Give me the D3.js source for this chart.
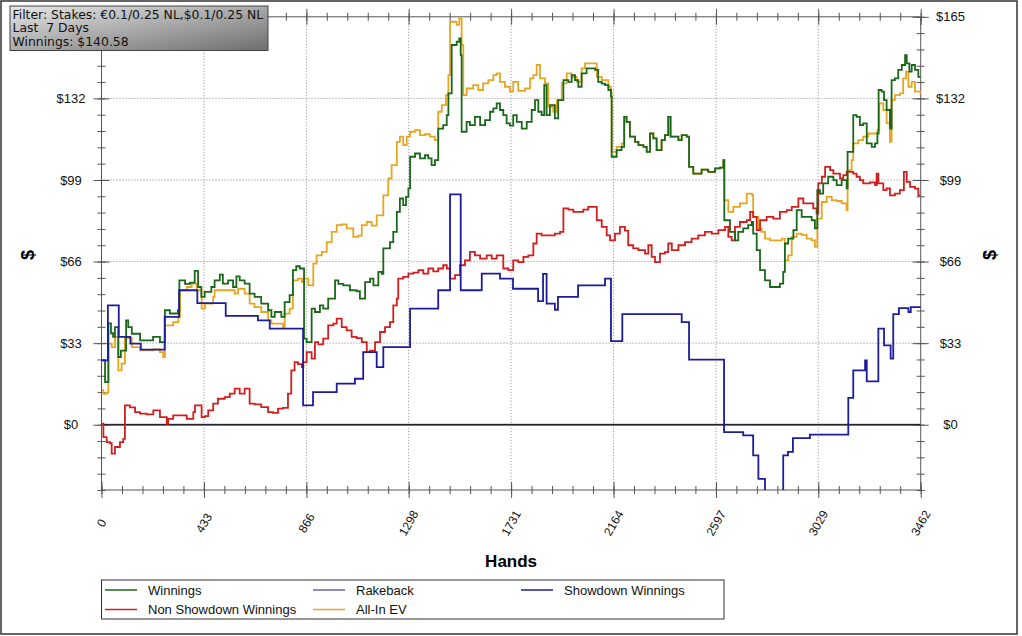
<!DOCTYPE html>
<html>
<head>
  <script src="https://d3js.org/d3.v7.min.js"></script>
  <style>
    body { margin: 0; background: #fff; }
    svg { display: block; font-family: "Liberation Sans", Arial, sans-serif; }
    .grid line { stroke: #8a8a8a; stroke-dasharray: 1px 2px; }
    .axis path { display: none; }
    .axis line { stroke: #555; stroke-width: 1px; }
    .series { fill: none; stroke-width: 1.8px; stroke-linejoin: miter; }
  </style>
</head>
<body>
<script>
// tick labels
var xTicks = [0, 433, 866, 1298, 1731, 2164, 2597, 3029, 3462];
var yTicks = [0, 33, 66, 99, 132, 165];
var filterLines = ["Filter: Stakes: \u20ac0.1/0.25 NL,$0.1/0.25 NL", "Last  7 Days", "Winnings: $140.58"];

// legend: name, column, row
var legendNames = ["Winnings", "Rakeback", "Showdown Winnings", "Non Showdown Winnings", "All-In EV"];
var legendColors = ["#1b681b", "#6666aa", "#1c1c9c", "#d21e1e", "#e6a622"];

// series, [hands, dollars]
var rakeback = [[0, 0], [3462, 0]];

var winnings = [[0,26],[15,17.2],[25,17.2],[29,41],[40,37],[49,35.5],[57,39.5],[64,39.5],[71,27.4],[78,27.4],[82,30],
  [104,42.2],[113,39.5],[128,36.8],[142,36.8],[163,34.1],[205,34.1],[218,35.5],[230,35.5],[247,33.4],[260,33.4],
  [268,46.3],[289,45],[323,46.3],[329,58.4],[353,57],[374,57.5],[394,62.2],[408,55.7],[422,51.7],[436,53.7],
  [464,55.7],[478,58.4],[500,60.7],[513,57.1],[535,58.4],[556,55.7],[570,60],[584,58.4],[605,57.1],[626,53],
  [647,51.7],[675,49],[704,46.3],[718,43.6],[732,45.6],[760,43.6],[774,49.6],[795,52.4],[809,62.5],[823,64.1],
  [838,63.2],[852,63.2],[856,34.8],[867,33.4],[888,47],[902,45.6],[923,48.3],[937,47],[958,51],[987,58.4],
  [1001,57],[1022,56.4],[1050,54.4],[1078,54],[1092,51],[1114,57.7],[1135,59.1],[1149,56.4],[1170,61.8],
  [1184,61],[1191,71.3],[1219,73.9],[1233,78],[1248,86.1],[1261,91.5],[1275,88.8],[1287,92.2],[1297,95.6],
  [1304,108.4],[1325,109.7],[1346,107.7],[1367,109],[1381,107.7],[1395,105],[1409,107],[1423,119.8],
  [1444,121.2],[1459,125.2],[1466,134],[1480,153.6],[1501,154.9],[1512,156.3],[1518,149.5],[1522,118.5],
  [1543,122.5],[1557,121.2],[1578,124.5],[1600,121.2],[1621,123.2],[1642,126.6],[1656,128],[1670,130],
  [1684,127.3],[1698,125.2],[1712,121.9],[1726,121],[1740,125.2],[1755,122.5],[1776,119.8],[1797,122.5],
  [1818,127.3],[1832,131.3],[1846,126.6],[1860,125.2],[1871,137.4],[1881,125.2],[1895,129.3],[1916,123.9],
  [1930,131.3],[1952,139.4],[1973,138.7],[1987,141.4],[2001,139.4],[2015,136.7],[2029,142.1],[2050,144.1],
  [2072,144.1],[2086,143.5],[2099,138.7],[2114,138],[2128,137.4],[2142,135.4],[2153,132.6],[2156,108.4],
  [2177,111.1],[2198,112.4],[2209,124.5],[2219,122.5],[2233,116.5],[2255,114.4],[2269,113.1],[2290,112.4],
  [2304,110.4],[2318,117.8],[2332,115.8],[2346,111.1],[2367,115.1],[2381,117.1],[2395,124.5],[2405,116.5],
  [2424,116.5],[2438,115.1],[2452,117.1],[2473,116.5],[2483,104.3],[2501,101.6],[2536,103.2],[2564,102.3],
  [2593,103.7],[2614,104],[2628,107],[2632,82.7],[2656,78],[2677,74.6],[2691,78],[2712,79.4],[2733,80.7],
  [2748,82],[2754,77.3],[2769,70.6],[2783,62.5],[2804,58.4],[2825,55.7],[2846,55.7],[2867,57.1],[2881,61.8],
  [2888,73.3],[2902,75.3],[2924,78.7],[2938,86.8],[2959,84.1],[2980,84.1],[3001,82.7],[3015,79.4],[3025,94.9],
  [3036,93.5],[3050,97.6],[3071,100.3],[3093,98.9],[3107,96.9],[3128,98.9],[3149,95.6],[3153,110.4],
  [3170,110.4],[3177,125.2],[3191,124.5],[3205,121.2],[3219,121.9],[3234,113.8],[3255,112.4],[3269,113.8],
  [3279,117.8],[3284,135.4],[3297,134.7],[3307,131.3],[3318,127.3],[3332,119.8],[3339,139.4],[3353,140.1],
  [3367,143.5],[3382,145.5],[3396,149.5],[3403,146.2],[3414,142.8],[3424,145.5],[3438,143.5],[3452,140.7],
  [3462,140.58]];

var allInEV = [[0,14],[8,12.5],[22,13],[29,32.8],[43,31.4],[57,35.5],[71,22],[85,24.7],[99,35.5],[113,35],
  [128,31.4],[163,30.1],[219,30.5],[247,29.4],[261,27.4],[268,40.2],[303,41.5],[325,43.6],[332,54.4],[360,55.7],
  [381,57.1],[402,54.4],[423,47],[437,49],[472,51.7],[478,54.4],[563,53],[577,55],[605,53],[626,49],[647,47.6],
  [675,45.6],[704,42.2],[718,40.9],[767,39.5],[774,44.9],[795,47],[809,58.4],[830,59.1],[847,57.7],[856,59.1],
  [874,56.4],[895,65.2],[909,68.5],[931,69.9],[952,73.9],[973,78],[994,80.7],[1015,81],[1036,79.4],[1064,76],
  [1085,76.5],[1100,80.7],[1121,82],[1142,80.5],[1163,84.7],[1191,92.8],[1212,99.6],[1226,105],[1248,114.4],
  [1261,116.5],[1275,113.1],[1290,116.5],[1304,118.5],[1325,119.2],[1346,117.1],[1367,117.5],[1388,116.5],
  [1409,115.1],[1423,126.6],[1438,129.3],[1456,133.3],[1466,141.4],[1473,163],[1487,163],[1501,161.7],
  [1512,164.4],[1522,153.6],[1529,133.3],[1543,136],[1571,137.4],[1592,135.4],[1613,138.1],[1635,139.4],
  [1656,141.4],[1670,142.1],[1684,138.7],[1705,136.7],[1726,134.7],[1740,138.7],[1761,135],[1790,136],
  [1811,140.1],[1825,141.4],[1839,145.5],[1853,140.1],[1874,138.1],[1888,128.6],[1909,126.6],[1924,131.3],
  [1945,138.1],[1966,142.1],[1987,140.7],[2008,138.7],[2029,144.1],[2043,146.2],[2086,146.2],[2093,140.7],
  [2114,139.4],[2142,136.7],[2153,134],[2156,110.4],[2177,112.4],[2198,113.8],[2209,124.5],[2219,122.5],
  [2233,116.5],[2255,114.4],[2269,113.1],[2290,112.4],[2304,110.4],[2318,117.8],[2332,115.8],[2346,111.1],
  [2367,115.1],[2381,117.1],[2395,124.5],[2405,116.5],[2424,116.5],[2438,115.1],[2452,117.1],[2473,116.5],
  [2483,104.3],[2501,101.6],[2536,103.2],[2564,102.3],[2593,103.7],[2614,104],[2628,107],[2632,90.8],
  [2649,86.1],[2670,88.1],[2698,89.5],[2727,93.5],[2748,93],[2754,84.1],[2776,79.4],[2790,78],[2804,75.3],
  [2825,74.6],[2875,75.3],[2888,66.5],[2902,68.5],[2917,76],[2938,77.3],[2959,76.8],[2980,75.3],[3001,74.6],
  [3015,71.9],[3025,83.4],[3044,90.1],[3065,92.2],[3086,90.8],[3107,90.5],[3128,89.5],[3149,86.8],[3153,103],
  [3170,107],[3177,113.8],[3198,115.1],[3219,116.5],[3240,117.8],[3279,119.2],[3287,130],[3304,127.3],
  [3318,121.9],[3332,114.4],[3339,131.3],[3353,133.3],[3374,134],[3388,140.1],[3400,142.8],[3410,136.7],
  [3424,138.7],[3438,134.7],[3462,133.6]];

var nonShowdown = [[0,0.4],[8,-5],[22,-7],[36,-7.5],[43,-11.7],[57,-9],[78,-7],[92,-5.7],[99,7.8],[120,7],
  [142,5.1],[163,4.5],[191,4.2],[219,5.8],[247,3.1],[276,0.4],[282,2.4],[303,3.8],[332,3.8],[360,2.4],[388,5.1],
  [395,7.8],[416,7.8],[423,3.1],[437,3.5],[451,5.8],[472,8.5],[492,10.5],[521,11.2],[542,12.6],[563,14.6],
  [584,12.6],[605,14.6],[626,8.5],[647,8.2],[675,7.1],[704,5.1],[725,4.8],[746,6.5],[767,6.8],[788,12.6],
  [802,22],[816,25.3],[830,24.5],[847,23.3],[853,25.3],[867,29.4],[888,26.7],[902,33.4],[916,32.5],[937,34.8],
  [958,40.2],[980,40.9],[994,42.9],[1015,39.5],[1036,38.2],[1057,35.5],[1078,35],[1100,33.4],[1121,29.4],
  [1135,30],[1156,33.4],[1177,37.5],[1198,39.5],[1219,41.5],[1233,48.3],[1248,51],[1254,59.1],[1275,59.8],
  [1297,61.1],[1318,61.5],[1339,62.5],[1360,61.1],[1381,63.2],[1402,62],[1423,63.2],[1444,64.5],[1459,63.2],
  [1473,59.1],[1494,60.5],[1515,64.5],[1536,66.5],[1557,69.9],[1578,68.5],[1600,67.2],[1628,68.5],[1649,67.2],
  [1670,68.5],[1698,63.2],[1719,62.5],[1740,66.5],[1761,65.8],[1783,67.9],[1804,68.5],[1825,73.3],[1839,77.3],
  [1860,76.6],[1916,77.3],[1938,78],[1952,87.5],[1973,87],[1994,86.1],[2036,87],[2057,88.1],[2086,88.1],
  [2093,82.7],[2114,80],[2135,76.6],[2149,74.6],[2170,77.3],[2191,80],[2212,78.5],[2226,72.6],[2247,71.3],
  [2269,70.6],[2297,69.2],[2311,72.6],[2325,67.9],[2339,65.8],[2360,69.2],[2381,69.8],[2395,73.3],[2410,70.6],
  [2438,72.6],[2466,73.9],[2494,75.3],[2522,76.6],[2550,78],[2579,77.3],[2607,78.7],[2635,80],[2649,76],
  [2663,74.6],[2677,80],[2698,82],[2727,82.7],[2741,86.1],[2754,84.1],[2769,78.7],[2783,82.7],[2811,84.1],
  [2839,83.4],[2867,86.1],[2896,86.8],[2917,88.1],[2945,91.5],[2966,89.5],[2987,89.5],[3008,87.5],[3022,85.4],
  [3029,97.6],[3044,100.3],[3058,104.3],[3079,103],[3093,101.6],[3121,99.6],[3135,101],[3149,102.3],
  [3177,101.6],[3191,100.3],[3205,98.9],[3219,97.6],[3248,98],[3269,96.9],[3276,101.6],[3283,97.6],[3304,94.9],
  [3318,95.6],[3332,92.8],[3353,93.5],[3374,94.9],[3391,102.3],[3403,98.2],[3417,96.2],[3438,95.5],[3452,92.8],
  [3462,92.8]];

var showdown = [[0,26],[27,48.3],[73,35.5],[122,32.8],[166,30.4],[267,43.6],[328,54.4],[405,49.2],[525,44],
  [661,42.2],[711,38.9],[852,7.8],[894,13.2],[994,16.6],[1071,18.6],[1106,29.4],[1163,23.3],[1191,31.4],
  [1304,47],[1423,54.4],[1473,93.2],[1518,54.4],[1607,61.1],[1684,59.1],[1739,55],[1845,50],[1866,61],
  [1881,49],[1916,46.5],[1929,51.7],[2014,56.4],[2128,59.1],[2153,33.8],[2201,44.7],[2452,41.5],[2483,26.3],
  [2631,-3],[2712,-4.3],[2754,-12.4],[2776,-21.9],[2804,-28],[2881,-12.4],[2901,-11],[2922,-5.4],[2994,-4],
  [3156,10.9],[3177,22],[3227,26],[3234,17.5],[3283,38.9],[3307,32.1],[3335,26.7],[3346,44.7],[3370,47.2],
  [3410,45.6],[3420,47.6],[3462,47.6]];

var width = 1022, height = 636;
var svg = d3.select("body").append("svg")
    .attr("width", width)
    .attr("height", height);

var x = d3.scaleLinear().domain([0, 3462]).range([101.5, 920.7]);
var y = d3.scaleLinear().domain([-26.4, 165]).range([490, 16.8]);

// outer frame
svg.append("rect")
    .attr("x", 1).attr("y", 1)
    .attr("width", 1016).attr("height", 633)
    .attr("fill", "#fff").attr("stroke", "#333").attr("stroke-width", 1.5);

// dotted grid
var grid = svg.append("g").attr("class", "grid");
grid.selectAll(".vx")
    .data(xTicks.slice(1, -1))
  .enter().append("line")
    .attr("x1", function(d) { return x(d); }).attr("x2", function(d) { return x(d); })
    .attr("y1", y(165)).attr("y2", y(-26.4));
grid.selectAll(".hy")
    .data(yTicks.slice(1, -1))
  .enter().append("line")
    .attr("x1", x(0)).attr("x2", x(3462))
    .attr("y1", function(d) { return y(d); }).attr("y2", function(d) { return y(d); });

// plot frame
svg.append("rect")
    .attr("x", x(0)).attr("y", y(165))
    .attr("width", x(3462) - x(0)).attr("height", y(-26.4) - y(165))
    .attr("fill", "none").attr("stroke", "#555");

// axes with crossing ticks
var xMinor = d3.range(0, 41).map(function(i) { return 3462 * i / 40; });
var yMinor = d3.range(-4, 26).map(function(i) { return i * 6.6; });

function crossTicks(g, horizontal, major) {
  var s = major ? 8 : 4;
  g.selectAll(".tick line")
      .attr(horizontal ? "y1" : "x1", -s)
      .attr(horizontal ? "y2" : "x2", s);
  g.selectAll(".tick text").remove();
}

[y(-26.4), y(165)].forEach(function(py) {
  svg.append("g").attr("class", "axis").attr("transform", "translate(0," + py + ")")
      .call(d3.axisBottom(x).tickValues(xMinor).tickSizeOuter(0))
      .call(crossTicks, true, false);
  svg.append("g").attr("class", "axis").attr("transform", "translate(0," + py + ")")
      .call(d3.axisBottom(x).tickValues(xTicks).tickSizeOuter(0))
      .call(crossTicks, true, true);
});
[x(0), x(3462)].forEach(function(px) {
  svg.append("g").attr("class", "axis").attr("transform", "translate(" + px + ",0)")
      .call(d3.axisLeft(y).tickValues(yMinor).tickSizeOuter(0))
      .call(crossTicks, false, false);
  svg.append("g").attr("class", "axis").attr("transform", "translate(" + px + ",0)")
      .call(d3.axisLeft(y).tickValues(yTicks).tickSizeOuter(0))
      .call(crossTicks, false, true);
});

// tick labels
svg.selectAll(".xlab")
    .data(xTicks)
  .enter().append("text")
    .attr("transform", function(d) { return "translate(" + x(d) + ",523) rotate(-60)"; })
    .attr("text-anchor", "middle")
    .attr("dy", "0.35em")
    .attr("font-size", 12)
    .attr("fill", "#111")
    .text(function(d) { return d; });

// left $165 sits under the filter box in the original
svg.selectAll(".ylabL")
    .data(yTicks.slice(0, -1))
  .enter().append("text")
    .attr("x", 71)
    .attr("y", function(d) { return y(d); })
    .attr("dy", "0.35em")
    .attr("text-anchor", "middle")
    .attr("font-size", 13)
    .attr("fill", "#111")
    .text(function(d) { return "$" + d; });
svg.selectAll(".ylabR")
    .data(yTicks)
  .enter().append("text")
    .attr("x", 950.5)
    .attr("y", function(d) { return y(d); })
    .attr("dy", "0.35em")
    .attr("text-anchor", "middle")
    .attr("font-size", 13)
    .attr("fill", "#111")
    .text(function(d) { return "$" + d; });

// axis titles
svg.append("text")
    .attr("x", x(1731)).attr("y", 567)
    .attr("text-anchor", "middle")
    .attr("font-size", 17).attr("font-weight", "bold")
    .text("Hands");
[28, 990].forEach(function(px) {
  svg.append("text")
      .attr("transform", "translate(" + px + ",255) rotate(-90)")
      .attr("text-anchor", "middle").attr("dy", "0.35em")
      .attr("font-size", 18).attr("font-weight", "bold")
      .text("$");
});

// series
svg.append("clipPath").attr("id", "plot")
  .append("rect")
    .attr("x", x(0)).attr("y", y(165))
    .attr("width", x(3462) - x(0)).attr("height", y(-26.4) - y(165));

var line = d3.line()
    .x(function(d) { return x(d[0]); })
    .y(function(d) { return y(d[1]); })
    .curve(d3.curveStepAfter);

var plot = svg.append("g").attr("clip-path", "url(#plot)");
plot.append("path").datum(rakeback).attr("class", "series")
    .attr("stroke", legendColors[1]).attr("d", line);
plot.append("line")
    .attr("x1", x(0)).attr("x2", x(3462))
    .attr("y1", y(0)).attr("y2", y(0))
    .attr("stroke", "#111").attr("stroke-width", 1);
plot.append("path").datum(allInEV).attr("class", "series")
    .attr("stroke", legendColors[4]).attr("d", line);
plot.append("path").datum(nonShowdown).attr("class", "series")
    .attr("stroke", legendColors[3]).attr("d", line);
plot.append("path").datum(winnings).attr("class", "series")
    .attr("stroke", legendColors[0]).attr("d", line);
plot.append("path").datum(showdown).attr("class", "series")
    .attr("stroke", legendColors[2]).attr("stroke-width", 2).attr("d", line);

// legend
var legend = svg.append("g");
legend.append("rect")
    .attr("x", 101.5).attr("y", 580).attr("width", 622.5).attr("height", 39)
    .attr("fill", "#fff").attr("stroke", "#333");
var legendCols = [105, 313, 521, 105, 313];
var legendRows = [590, 590, 590, 609.5, 609.5];
var li = legend.selectAll(".li")
    .data(legendNames)
  .enter().append("g")
    .attr("transform", function(d, i) { return "translate(" + legendCols[i] + "," + legendRows[i] + ")"; });
li.append("line")
    .attr("x1", 0).attr("x2", 32)
    .attr("stroke", function(d, i) { return legendColors[i]; })
    .attr("stroke-width", 1.5);
li.append("text")
    .attr("x", 43).attr("dy", "0.35em")
    .attr("font-size", 13).attr("fill", "#111")
    .text(function(d) { return d; });

// filter box
var grad = svg.append("defs").append("linearGradient")
    .attr("id", "fbox").attr("x1", "0").attr("y1", "0").attr("x2", "1").attr("y2", "1");
grad.append("stop").attr("offset", "0").attr("stop-color", "#e6e6e6");
grad.append("stop").attr("offset", "1").attr("stop-color", "#6e6e6e");
svg.append("rect")
    .attr("x", 10).attr("y", 6).attr("width", 258).attr("height", 44.5)
    .attr("fill", "url(#fbox)").attr("stroke", "#444");
svg.selectAll(".fl")
    .data(filterLines)
  .enter().append("text")
    .attr("x", 12.5)
    .attr("y", function(d, i) { return 14.7 + i * 13.3; })
    .attr("dy", "0.35em")
    .attr("font-family", "DejaVu Sans, Verdana, sans-serif")
    .attr("font-size", 12.4)
    .attr("fill", "#111")
    .style("white-space", "pre")
    .text(function(d) { return d; });
</script>
</body>
</html>
